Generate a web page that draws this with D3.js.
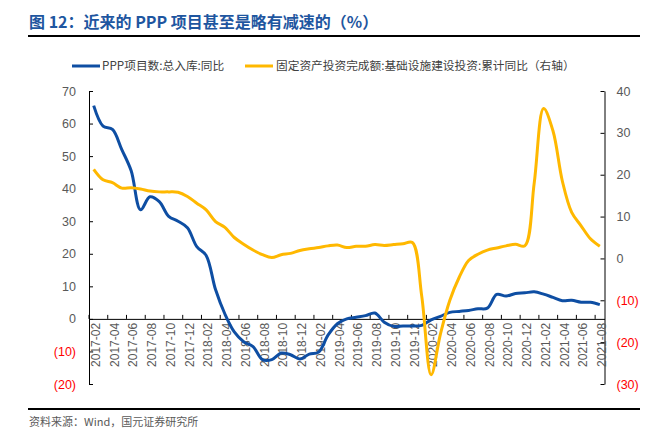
<!DOCTYPE html>
<html><head><meta charset="utf-8">
<script src="https://cdn.jsdelivr.net/npm/d3@7"></script>
<style>body{margin:0;background:#fff}svg{display:block}</style>
</head><body>
<svg id="c" width="660" height="443"></svg>
<script>
const months = [
 "2017-02","2017-03","2017-04","2017-05","2017-06","2017-07","2017-08","2017-09","2017-10","2017-11","2017-12",
 "2018-01","2018-02","2018-03","2018-04","2018-05","2018-06","2018-07","2018-08","2018-09","2018-10","2018-11","2018-12",
 "2019-01","2019-02","2019-03","2019-04","2019-05","2019-06","2019-07","2019-08","2019-09","2019-10","2019-11","2019-12",
 "2020-01","2020-02","2020-03","2020-04","2020-05","2020-06","2020-07","2020-08","2020-09","2020-10","2020-11","2020-12",
 "2021-01","2021-02","2021-03","2021-04","2021-05","2021-06","2021-07","2021-08"];
const pppYoY = [65.5,59.2,58.2,52.0,45.5,33.5,37.5,36.0,31.5,30.0,28.0,
 22.2,19.5,9.0,1.5,-4.0,-7.0,-8.5,-12.5,-12.5,-10.5,-11.0,-12.3,
 -10.8,-10.2,-5.0,-1.5,0.0,0.5,1.0,1.8,-1.0,-2.3,-2.2,-2.2,
 -2.0,-0.3,0.8,2.0,2.3,2.6,3.1,3.3,7.5,7.0,7.8,8.0,
 8.3,7.6,6.6,5.6,5.7,5.1,5.1,4.4];
const infraYoY = [21.3,18.8,18.1,16.8,16.9,16.6,16.1,15.9,15.9,15.8,14.8,
 13.2,11.6,8.8,7.4,5.0,3.4,2.0,0.9,0.2,0.9,1.2,1.9,
 2.3,2.6,3.0,3.2,2.6,2.9,2.9,3.3,3.1,3.3,3.5,3.8,
 -9.0,-27.8,-18.0,-10.0,-4.5,-0.5,1.0,2.0,2.5,3.0,3.4,3.0,
 18.0,35.8,30.5,18.5,11.0,7.8,4.7,2.9];
const leftTicks = [70,60,50,40,30,20,10,0,-10,-20];
const rightTicks = [40,30,20,10,0,-10,-20,-30];
const seriesNames = ["PPP项目数:总入库:同比","固定资产投资完成额:基础设施建设投资:累计同比（右轴）"];
const titleText = "图 12：近来的 PPP 项目甚至是略有减速的（%）";
const sourceText = "资料来源：Wind，国元证券研究所";

const BLUE = "#0E4EA3", GOLD = "#FFB800", GRAY = "#595959", RED = "#FF0000";
const NUM = "'Liberation Sans', Arial, sans-serif";
const CJK = "'Noto Sans CJK SC', 'Noto Sans', sans-serif";

const svg = d3.select("#c");
const L = 89, R = 604.5, T = 91, B = 384;

const x = d3.scaleBand().domain(months).range([L, R]).padding(0);
const cx = m => x(m) + x.bandwidth() / 2;
const yL = d3.scaleLinear().domain([-20, 70]).range([B, T]);
const yR = d3.scaleLinear().domain([-30, 40]).range([B, T]);
const fmt = v => v < 0 ? "(" + Math.abs(v) + ")" : String(v);

// title
svg.append("text").attr("x", 29).attr("y", 28).text(titleText)
  .attr("font-family", CJK).attr("font-weight", "bold").attr("font-size", 16).attr("fill", "#1E56A0");
svg.append("line").attr("x1", 28).attr("x2", 640).attr("y1", 36).attr("y2", 36).attr("stroke", "#000").attr("stroke-width", 2);
svg.append("line").attr("x1", 28).attr("x2", 640).attr("y1", 409).attr("y2", 409).attr("stroke", "#000").attr("stroke-width", 2);
svg.append("text").attr("x", 29).attr("y", 426).text(sourceText)
  .attr("font-family", CJK).attr("font-size", 11).attr("fill", GRAY);

// legend
const leg = [{c: BLUE, x: 72, tx: 102}, {c: GOLD, x: 245, tx: 276}];
leg.forEach((d, i) => {
  svg.append("line").attr("x1", d.x).attr("x2", d.x + 28).attr("y1", 66).attr("y2", 66).attr("stroke", d.c).attr("stroke-width", 3);
  svg.append("text").attr("x", d.tx).attr("y", 70).text(seriesNames[i])
    .attr("font-family", CJK).attr("font-size", 11.7).attr("fill", "#404040");
});

// left axis
const gL = svg.append("g").attr("transform", `translate(${L},0)`)
  .call(d3.axisLeft(yL).tickValues(leftTicks).tickSize(-4).tickSizeOuter(0).tickPadding(13).tickFormat(fmt));
gL.selectAll("text").attr("font-family", NUM).attr("font-size", 12.5).attr("fill", d => d < 0 ? RED : GRAY);
gL.selectAll("line,path").attr("stroke", "#000");

// right axis
const gR = svg.append("g").attr("transform", `translate(${R},0)`)
  .call(d3.axisRight(yR).tickValues(rightTicks).tickSize(-4).tickSizeOuter(0).tickPadding(12).tickFormat(fmt));
gR.selectAll("text").attr("font-family", NUM).attr("font-size", 12.5).attr("fill", d => d < 0 ? RED : GRAY);
gR.selectAll("line,path").attr("stroke", "#000");

// x axis (labels)
const labelMonths = months.filter((d, i) => i % 2 === 0);
const gX = svg.append("g").attr("transform", `translate(0,${yL(0)})`)
  .call(d3.axisBottom(x).tickValues(labelMonths).tickSize(0).tickSizeOuter(0));
gX.select(".domain").attr("stroke", "#000");
gX.selectAll("text").attr("transform", "rotate(-90)").attr("text-anchor", "end")
  .attr("x", -4).attr("y", 2).attr("dy", "0.35em")
  .attr("font-family", NUM).attr("font-size", 12).attr("fill", GRAY);
gX.selectAll(".tick").append("line")
  .attr("x1", -x.bandwidth() / 2).attr("x2", -x.bandwidth() / 2).attr("y1", -4).attr("y2", 0)
  .attr("stroke", "#000");

// lines
const lineL = d3.line().x((d, i) => cx(months[i])).y(d => yL(d)).curve(d3.curveCatmullRom.alpha(0.5));
const lineR = d3.line().x((d, i) => cx(months[i])).y(d => yR(d)).curve(d3.curveCatmullRom.alpha(0.5));
svg.append("path").datum(pppYoY).attr("d", lineL).attr("fill", "none").attr("stroke", BLUE).attr("stroke-width", 3).attr("stroke-linejoin", "round");
svg.append("path").datum(infraYoY).attr("d", lineR).attr("fill", "none").attr("stroke", GOLD).attr("stroke-width", 3).attr("stroke-linejoin", "round");
</script>
</body></html>
